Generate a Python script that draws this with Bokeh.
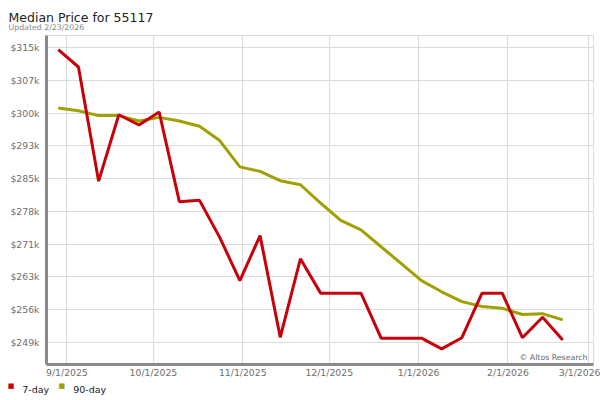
from datetime import datetime

from bokeh.plotting import figure
from bokeh.models import Range1d, FixedTicker, Label, ColumnDataSource
from bokeh.embed import file_html
from bokeh.resources import INLINE

# ---- data ----
dates = ["2025-08-29", "2025-09-05", "2025-09-12", "2025-09-19", "2025-09-26",
         "2025-10-03", "2025-10-10", "2025-10-17", "2025-10-24", "2025-10-31",
         "2025-11-07", "2025-11-14", "2025-11-21", "2025-11-28",
         "2025-12-05", "2025-12-12", "2025-12-19", "2025-12-26",
         "2026-01-02", "2026-01-09", "2026-01-16", "2026-01-23", "2026-01-30",
         "2026-02-06", "2026-02-13", "2026-02-20"]

price_7day = [314600, 310700, 285100, 300000, 297700, 300600, 280500, 280800,
              272500, 262800, 272900, 250100, 267700, 260000, 260000, 260000,
              249900, 249900, 249900, 247500, 250000, 260000, 260000, 250000,
              254600, 249500]

price_90day = [301500, 300900, 299800, 299800, 298600, 299400, 298600, 297400,
               294200, 288300, 287300, 285200, 284300, 280200, 276300, 274200,
               270400, 266600, 262800, 260300, 258100, 257000, 256600, 255200,
               255400, 254000]

y_ticks = [249000, 256333, 263667, 271000, 278333, 285667, 293000, 300333, 307667, 315000]
y_tick_labels = ["$249k", "$256k", "$263k", "$271k", "$278k", "$285k", "$293k",
                 "$300k", "$307k", "$315k"]

x_tick_dates = ["2025-09-01", "2025-10-01", "2025-11-01", "2025-12-01",
                "2026-01-01", "2026-02-01", "2026-03-01"]
x_tick_labels = ["9/1/2025", "10/1/2025", "11/1/2025", "12/1/2025",
                 "1/1/2026", "2/1/2026", "3/1/2026"]

title_text = "Median Price for 55117"
subtitle_text = "Updated 2/23/2026"
watermark_text = "\u00a9 Altos Research"
series_names = ["7-day", "90-day"]
series_colors = ["#c8000a", "#a0a000"]

# ---- helpers ----
EPOCH = datetime(1970, 1, 1)


def to_ms(s):
    return int((datetime.strptime(s, "%Y-%m-%d") - EPOCH).total_seconds() * 1000)


x_dt = [datetime.strptime(d, "%Y-%m-%d") for d in dates]
x_tick_ms = [to_ms(d) for d in x_tick_dates]

FONT = "DejaVu Sans"

p = figure(width=600, height=400, x_axis_type="datetime",
           output_backend="svg", toolbar_location=None,
           x_range=Range1d(datetime(2025, 8, 24, 22), datetime(2026, 3, 2, 16)),
           y_range=Range1d(244000, 317760))
p.min_border_left = 45
p.min_border_right = 7
p.min_border_top = 35
p.min_border_bottom = 36
p.background_fill_color = "white"
p.border_fill_color = "white"
p.outline_line_color = "#dcdcdc"
p.outline_line_width = 1

# grid
p.xgrid.grid_line_color = "#dcdcdc"
p.ygrid.grid_line_color = "#dcdcdc"

# axes
p.xaxis.ticker = FixedTicker(ticks=x_tick_ms)
p.xaxis.major_label_overrides = dict(zip(x_tick_ms, x_tick_labels))
p.yaxis.ticker = FixedTicker(ticks=y_ticks)
p.yaxis.major_label_overrides = dict(zip(y_ticks, y_tick_labels))
for ax in (p.xaxis, p.yaxis):
    ax.axis_line_color = "#8a8a8a"
    ax.axis_line_width = 3
    ax.major_tick_line_color = None
    ax.minor_tick_line_color = None
    ax.major_tick_out = 0
    ax.major_tick_in = 0
    ax.major_label_text_font = FONT
    ax.major_label_text_font_size = "9.3px"
    ax.major_label_text_color = "#6e6e6e"
p.xaxis.major_label_standoff = 2
p.yaxis.major_label_standoff = 7

# lines
src = ColumnDataSource(dict(x=x_dt, p7=price_7day, p90=price_90day))
p.line("x", "p90", source=src, line_color=series_colors[1], line_width=3)
p.line("x", "p7", source=src, line_color=series_colors[0], line_width=3)


def canvas_label(x, y, text, size, color, panel, align="left", baseline="alphabetic"):
    # canvas-positioned text, hosted in a side panel so it is not clipped to the frame
    p.add_layout(Label(x=x, y=y, x_units="canvas", y_units="canvas", text=text,
                       text_font=FONT, text_font_size=size, text_color=color,
                       text_baseline=baseline, text_align=align), panel)


# titles
canvas_label(8, 17.3, title_text, "12.5px", "#222222", "above")
canvas_label(8, 26.7, subtitle_text, "7.8px", "#888888", "above")

# legend: coloured square swatches + labels under the axis
legend_x = [10.5, 61.3]
legend_text_x = [21.7, 72.7]
swatch_panels = ["left", "right"]
text_panels = ["above", "below"]
for i in range(2):
    canvas_label(legend_x[i], 385.5, "\u25a0", "7px", series_colors[i], swatch_panels[i],
                 align="center", baseline="middle")
    canvas_label(legend_text_x[i], 389.3, series_names[i], "9.5px", "#222222", text_panels[i])

# watermark
p.add_layout(Label(x=541, y=6.7, x_units="screen", y_units="screen",
                   text=watermark_text, text_font=FONT, text_font_size="7.8px",
                   text_color="#666666", text_baseline="alphabetic", text_align="right"))

open("out.html", "w").write(file_html(p, INLINE))
